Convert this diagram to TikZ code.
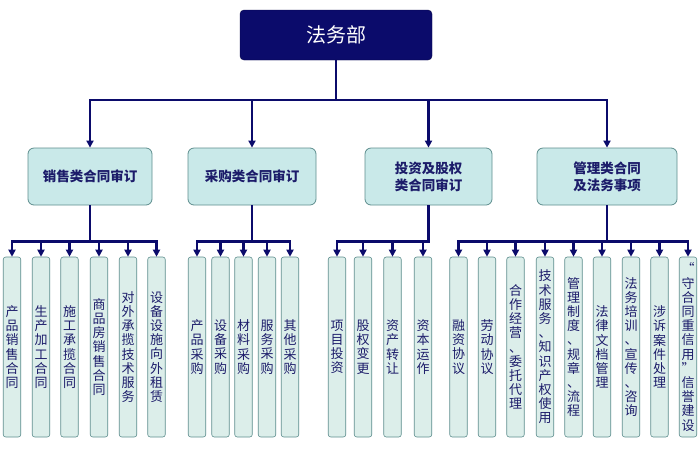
\documentclass[tikz,border=0pt]{standalone}
\usepackage{fontspec}
\setmainfont{Noto Sans CJK SC}
\usetikzlibrary{arrows.meta}
\definecolor{navy}{HTML}{0B0B6B}
\definecolor{tealfill}{HTML}{C9E9E9}
\definecolor{tealdraw}{HTML}{5E8E8E}
\definecolor{leaffill}{HTML}{DCEEEA}
\definecolor{txt}{HTML}{1C1C6A}
\begin{document}
\begin{tikzpicture}[x=1pt,y=-1pt,
 top/.style={draw=navy!70!black,fill=navy,rounded corners=4pt,minimum width=192pt,minimum height=50pt,text=white,font=\fontsize{20}{22}\selectfont},
 mid/.style={draw=tealdraw,fill=tealfill,rounded corners=6pt,minimum height=57pt,text=txt,font=\bfseries\fontsize{13.5}{17}\selectfont,align=center,line width=0.8pt},
 leaf/.style={draw=tealdraw,fill=leaffill,rounded corners=2.5pt,minimum width=17.5pt,minimum height=180pt,inner sep=0pt,text=txt,font=\fontsize{13}{14.2}\selectfont,align=center,line width=0.6pt},
 con/.style={draw=navy,line width=2.2pt,-{Triangle[width=7pt,length=7pt]}}]
\useasboundingbox (0,0) rectangle (700,448);
\fill[white] (0,0) rectangle (700,448);
\node[top] (root) at (336,35) {法务部};
\node[mid,minimum width=124pt] (m1) at (90,176.5) {销售类合同审订};
\node[mid,minimum width=128pt] (m2) at (252,176.5) {采购类合同审订};
\node[mid,minimum width=127pt] (m3) at (428.5,176.5) {投资及股权\\类合同审订};
\node[mid,minimum width=140pt] (m4) at (607,176.5) {管理类合同\\及法务事项};
\foreach \m in {m1,m2,m3,m4}{\draw[con] (root.south) -- (336,100) -| (\m.north);}
\foreach \n/\x/\t in {
 a1/12/{产\\品\\销\\售\\合\\同},
 a2/41/{生\\产\\加\\工\\合\\同},
 a3/69.5/{施\\工\\承\\揽\\合\\同},
 a4/99/{商\\品\\房\\销\\售\\合\\同},
 a5/128/{对\\外\\承\\揽\\技\\术\\服\\务},
 a6/156.5/{设\\备\\设\\施\\向\\外\\租\\赁}}
 {\node[leaf] (\n) at (\x,347) {\t}; \draw[con] (m1.south) -- ++(0,36) -| (\n.north);}
\foreach \n/\x/\t in {
 b1/197/{产\\品\\采\\购},
 b2/220.5/{设\\备\\采\\购},
 b3/243.5/{材\\料\\采\\购},
 b4/267/{服\\务\\采\\购},
 b5/290/{其\\他\\采\\购}}
 {\node[leaf] (\n) at (\x,347) {\t}; \draw[con] (m2.south) -- ++(0,36) -| (\n.north);}
\foreach \n/\x/\t in {
 c1/337/{项\\目\\投\\资},
 c2/363/{股\\权\\变\\更},
 c3/392.5/{资\\产\\转\\让},
 c4/423/{资\\本\\运\\作}}
 {\node[leaf] (\n) at (\x,347) {\t}; \draw[con] (m3.south) -- ++(0,36) -| (\n.north);}
\foreach \n/\x/\t in {
 d1/458.5/{融\\资\\协\\议},
 d2/487/{劳\\动\\协\\议},
 d3/515.5/{合\\作\\经\\营\\、\\委\\托\\代\\理},
 d4/545/{技\\术\\服\\务\\、\\知\\识\\产\\权\\使\\用},
 d5/573.5/{管\\理\\制\\度\\、\\规\\章\\、\\流\\程},
 d6/602/{法\\律\\文\\档\\管\\理},
 d7/631/{法\\务\\培\\训\\、\\宣\\传\\、\\咨\\询},
 d8/659.5/{涉\\诉\\案\\件\\处\\理},
 d9/688/{“\\守\\合\\同\\重\\信\\用\\”\\信\\誉\\建\\设}}
 {\node[leaf] (\n) at (\x,347) {\t}; \draw[con] (m4.south) -- ++(0,36) -| (\n.north);}
\end{tikzpicture}
\end{document}
